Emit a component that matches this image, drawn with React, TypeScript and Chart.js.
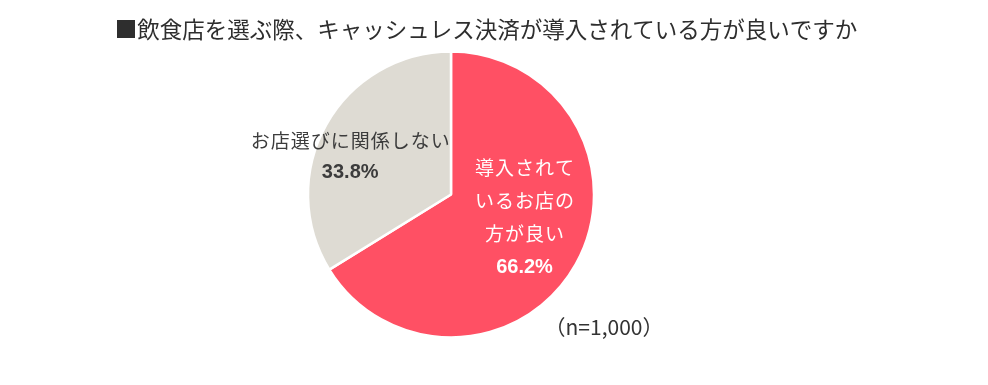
import React, { useEffect, useRef } from "react";
import { Chart, registerables } from "chart.js";

Chart.register(...registerables);

const titleText = "■飲食店を選ぶ際、キャッシュレス決済が導入されている方が良いですか";
const categories = ["導入されているお店の方が良い", "お店選びに関係しない"];
const labelLines = [["導入されて", "いるお店の", "方が良い"], ["お店選びに関係しない"]];
const values = [66.2, 33.8];
const percentLabels = ["66.2%", "33.8%"];
const sampleNote = "（n=1,000）";
const sliceColors = ["#FF5064", "#DEDBD3"];
const labelColors = ["#FFFFFF", "#3C3C3C"];

const JP = '"Noto Sans CJK JP", "Noto Sans", sans-serif';
const NUM = '"Liberation Sans", Arial, sans-serif';

const labelPlugin = {
  id: "pieLabels",
  afterDraw(chart: any) {
    const ctx = chart.ctx as CanvasRenderingContext2D;
    const meta = chart.getDatasetMeta(0);
    const arc0 = meta.data[0] as any;
    const cx = arc0.x;
    const cy = arc0.y;
    const r = arc0.outerRadius;
    ctx.save();
    ctx.textBaseline = "middle";
    ctx.textAlign = "center";
    // title
    ctx.font = `400 22.5px ${JP}`;
    ctx.fillStyle = "#2E2E2E";
    ctx.fillText(titleText, chart.width / 2 - 8, 29);

    // placement per slice (in units of radius from pie centre)
    const place = [
      { dx: 0.514, dy: -0.187, step: 33 },
      { dx: -0.705, dy: -0.377, step: 31 },
    ];
    meta.data.forEach((_a: any, i: number) => {
      const p = place[i];
      const x = cx + p.dx * r;
      let y = cy + p.dy * r;
      ctx.fillStyle = labelColors[i];
      ctx.font = `400 19px ${JP}`;
      (ctx as any).letterSpacing = "1px";
      labelLines[i].forEach((line) => {
        ctx.fillText(line, x + 0.5, y);
        y += p.step;
      });
      (ctx as any).letterSpacing = "0px";
      ctx.font = `bold 20px ${NUM}`;
      ctx.fillText(percentLabels[i], x, y + 1);
    });

    ctx.fillStyle = "#333333";
    ctx.font = `400 21px ${JP}`;
    ctx.fillText(sampleNote, cx + 1.07 * r, cy + 0.93 * r);
    ctx.restore();
  },
};

export default function App() {
  const ref = useRef<HTMLCanvasElement | null>(null);
  useEffect(() => {
    if (!ref.current) return;
    const chart = new Chart(ref.current, {
      type: "pie",
      data: {
        labels: categories,
        datasets: [
          {
            data: values,
            backgroundColor: sliceColors,
            borderColor: "#FFFFFF",
            borderWidth: 2.5,
            radius: 143,
          },
        ],
      },
      options: {
        animation: false,
        responsive: false,
        maintainAspectRatio: false,
        layout: { padding: { top: 50, bottom: 46, left: 0, right: 86 } },
        plugins: {
          legend: { display: false },
          tooltip: { enabled: false },
          title: { display: false },
        },
      },
      plugins: [labelPlugin],
    });
    return () => chart.destroy();
  }, []);
  return (
    <div style={{ position: "absolute", left: 0, top: 0, width: 988, height: 385, background: "#fff" }}>
      <canvas ref={ref} width={988} height={385} style={{ width: 988, height: 385 }} />
    </div>
  );
}
